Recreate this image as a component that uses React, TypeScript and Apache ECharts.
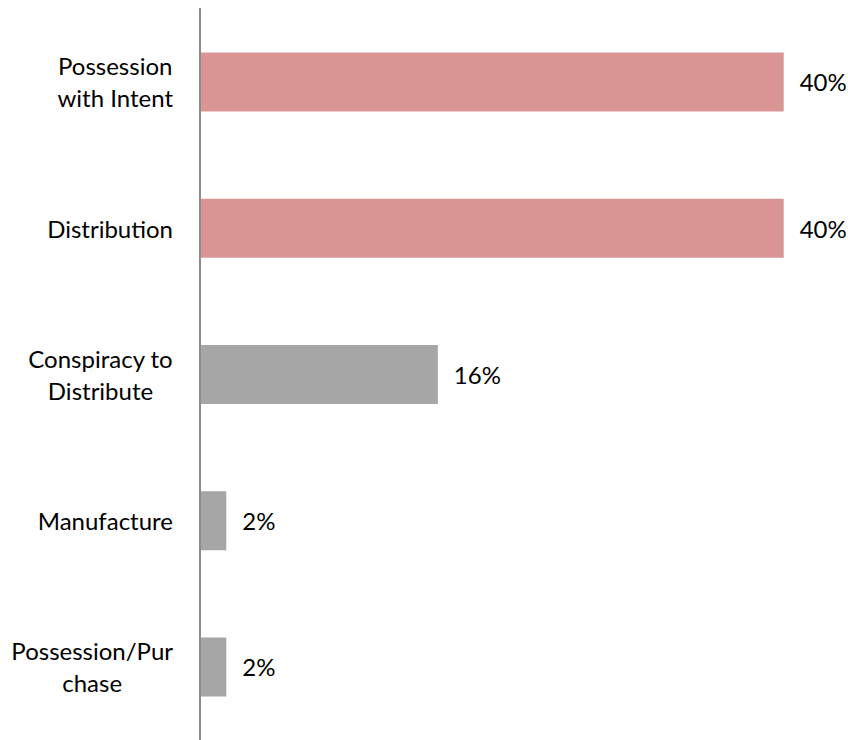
import React, { useEffect, useRef } from "react";
import * as echarts from "echarts";

const categories: string[] = [
  "Possession\nwith Intent",
  "Distribution",
  "Conspiracy to\nDistribute",
  "Manufacture",
  "Possession/Pur\nchase",
];
const values: number[] = [40, 40, 16.3, 1.8, 1.8];
const highlighted: boolean[] = [true, true, false, false, false];

const PINK = "#D99594";
const GRAY = "#A6A6A6";
const FONT = "Lato, 'Open Sans', sans-serif";

export default function App() {
  const ref = useRef<HTMLDivElement>(null);
  useEffect(() => {
    if (!ref.current) return;
    const chart = echarts.init(ref.current, null, { renderer: "svg" });
    chart.setOption({
      animation: false,
      backgroundColor: "#ffffff",
      grid: { left: 200, right: 64.3, top: 8.75, height: 737.5, containLabel: false },
      xAxis: {
        type: "value",
        min: 0,
        max: 40,
        show: false,
        splitLine: { show: false },
      },
      yAxis: {
        type: "category",
        data: categories,
        inverse: true,
        z: 5,
        axisLine: { show: true, lineStyle: { color: "#8C8C8C", width: 2 } },
        axisTick: { show: false },
        axisLabel: {
          margin: 27,
          color: "#000000",
          fontFamily: FONT,
          fontSize: 24,
          lineHeight: 32,
          align: "right",
          formatter: (v: string) =>
            v
              .split("\n")
              .map((s) => "{c|" + s + "}")
              .join("\n"),
          rich: {
            c: {
              align: "center",
              color: "#000000",
              fontFamily: FONT,
              fontSize: 24,
              lineHeight: 32,
            },
          },
        },
      },
      series: [
        {
          type: "bar",
          data: values.map((v, i) => ({
            value: v,
            itemStyle: { color: highlighted[i] ? PINK : GRAY },
          })),
          barWidth: 59,
          label: {
            show: true,
            position: "right",
            distance: 16,
            color: "#000000",
            fontFamily: FONT,
            fontSize: 24,
            formatter: (p: any) => Math.round(p.value) + "%",
          },
        },
      ],
    });
    return () => chart.dispose();
  }, []);
  return (
    <div
      ref={ref}
      style={{ position: "absolute", left: 0, top: 0, width: 848, height: 740 }}
    />
  );
}
